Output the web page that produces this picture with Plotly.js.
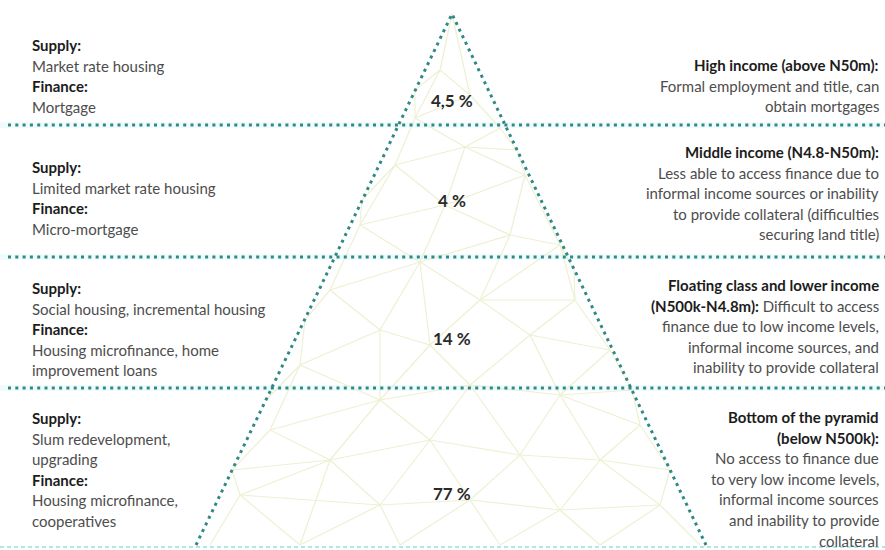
<!DOCTYPE html>
<html>
<head>
<meta charset="utf-8">
<script src="https://cdn.plot.ly/plotly-3.0.1.min.js"></script>
<style>html,body{margin:0;padding:0;background:#fff;}#chart{width:885px;height:550px;}</style>
</head>
<body>
<div id="chart"></div>
<script>
// ---------- DATA ----------
const tierShares = ["4,5 %", "4 %", "14 %", "77 %"];

const supplyFinance = [
  ["<b>Supply:</b>", "Market rate housing", "<b>Finance:</b>", "Mortgage"],
  ["<b>Supply:</b>", "Limited market rate housing", "<b>Finance:</b>", "Micro-mortgage"],
  ["<b>Supply:</b>", "Social housing, incremental housing", "<b>Finance:</b>", "Housing microfinance, home", "improvement loans"],
  ["<b>Supply:</b>", "Slum redevelopment,", "upgrading", "<b>Finance:</b>", "Housing microfinance,", "cooperatives"]
];

const incomeGroups = [
  ["<b>High income (above N50m):</b>", "Formal employment and title, can", "obtain mortgages"],
  ["<b>Middle income (N4.8-N50m):</b>", "Less able to access finance due to", "informal income sources or inability", "to provide collateral (difficulties", "securing land title)"],
  ["<b>Floating class and lower income</b>", "<b>(N500k-N4.8m):</b> Difficult to access", "finance due to low income levels,", "informal income sources, and", "inability to provide collateral"],
  ["<b>Bottom of the pyramid</b>", "<b>(below N500k):</b>", "No access to finance due", "to very low income levels,", "informal income sources", "and inability to provide", "collateral"]
];

// ---------- LAYOUT GEOMETRY (pixel frame) ----------
const W = 885, H = 550;
const apex = [452, 14];
const baseLeft = [196, 545];
const baseRight = [706, 545];
const tierLinesY = [125, 257, 388];
const bottomLineY = 547;
const shareY = [100, 200, 338, 493];
const leftStartY = [45, 167, 288, 418];
const rightStartY = [65, 152, 285, 417];
const lineGap = 20.6;
const leftX = 30, rightX = 881;

// decorative background mesh
const meshX = [452,440,470,415,500,465,395,525,445,360,510,560,420,330,480,575,380,430,530,610,300,470,380,560,270,640,330,430,520,600,240,380,470,560,660,210,300,400,500,600,700,415,517,362,574,305,632,266,670,232];
const meshY = [14,70,95,118,128,147,165,175,205,225,235,245,262,290,300,300,330,345,335,350,365,385,400,395,430,425,460,440,455,460,495,505,500,510,505,545,545,545,545,545,545,90,150,200,270,320,390,400,470,470];
const meshEdges = [[0,1],[0,2],[1,2],[1,41],[1,3],[2,3],[2,4],[3,41],[3,5],[4,5],[3,6],[5,6],[4,42],[5,42],[42,7],[5,7],[5,8],[6,8],[7,8],[6,43],[6,9],[8,9],[43,9],[7,10],[8,10],[7,11],[10,11],[8,12],[9,12],[10,12],[9,13],[12,13],[11,44],[10,14],[12,14],[11,14],[44,15],[14,15],[11,15],[13,45],[13,16],[12,16],[16,17],[12,17],[14,17],[14,18],[15,18],[15,19],[18,19],[45,20],[16,20],[17,21],[16,22],[17,22],[18,21],[18,23],[19,23],[19,46],[20,22],[20,47],[20,24],[22,24],[21,22],[21,23],[23,46],[23,25],[46,25],[22,27],[21,27],[21,28],[23,28],[23,29],[25,29],[24,26],[22,26],[26,27],[27,28],[28,29],[29,48],[25,48],[24,49],[26,49],[26,30],[49,30],[26,31],[27,31],[27,32],[28,32],[28,33],[29,33],[29,34],[48,34],[30,35],[30,36],[26,36],[31,36],[31,37],[32,37],[32,38],[33,38],[33,39],[34,39],[34,40],[31,32],[32,33],[33,34],[30,31]];

// ---------- TRACES ----------
const traces = [];
const mx = [], my = [];
meshEdges.forEach(e => { mx.push(meshX[e[0]], meshX[e[1]], null); my.push(meshY[e[0]], meshY[e[1]], null); });
traces.push({type:'scatter', mode:'lines', x:mx, y:my, line:{color:'#eef0d3', width:1.2}, hoverinfo:'skip', showlegend:false});

// horizontal tier separators: glow + dots
tierLinesY.forEach(y => {
  traces.push({type:'scatter', mode:'lines', x:[0,W], y:[y,y], line:{color:'rgba(185,238,238,0.22)', width:6}, hoverinfo:'skip', showlegend:false});
});
traces.push({type:'scatter', mode:'lines', x:[0,W], y:[bottomLineY,bottomLineY], line:{color:'#b2e5e5', width:2, dash:'4px,3px'}, hoverinfo:'skip', showlegend:false});
tierLinesY.forEach(y => {
  traces.push({type:'scatter', mode:'lines', x:[8,W], y:[y,y], line:{color:'#2f8986', width:3, dash:'3px,4.3px'}, hoverinfo:'skip', showlegend:false});
});
// pyramid sides
traces.push({type:'scatter', mode:'lines', x:[baseLeft[0], apex[0], baseRight[0]], y:[baseLeft[1], apex[1], baseRight[1]], line:{color:'#2f8986', width:3, dash:'3px,4.3px'}, hoverinfo:'skip', showlegend:false});

// ---------- ANNOTATIONS ----------
const annotations = [];
tierShares.forEach((s, i) => {
  annotations.push({x:apex[0], y:shareY[i], xref:'x', yref:'y', text:'<b>'+s+'</b>', showarrow:false, xanchor:'center', yanchor:'middle', font:{family:'Lato', size:17, color:'#2a2a2a'}});
});
supplyFinance.forEach((lines, i) => {
  lines.forEach((t, j) => {
    const bold = t.startsWith('<b>');
    annotations.push({x:leftX, y:leftStartY[i] + j*lineGap, xref:'x', yref:'y', text:t, showarrow:false, xanchor:'left', yanchor:'middle', font:{family:'Lato', size:15, color: bold ? '#1c1c1c' : '#4d4d4d'}});
  });
});
incomeGroups.forEach((lines, i) => {
  lines.forEach((t, j) => {
    const txt = t.replace(/<b>(.*?)<\/b>/g, '<span style="color:#1c1c1c"><b>$1</b></span>');
    annotations.push({x:rightX, y:rightStartY[i] + j*lineGap, xref:'x', yref:'y', text:txt, showarrow:false, xanchor:'right', yanchor:'middle', align:'right', font:{family:'Lato', size:15, color:'#4d4d4d'}});
  });
});

const layout = {
  width: W, height: H,
  margin:{l:0, r:0, t:0, b:0},
  paper_bgcolor:'#ffffff', plot_bgcolor:'#ffffff',
  xaxis:{range:[0, W], visible:false, fixedrange:true},
  yaxis:{range:[H, 0], visible:false, fixedrange:true},
  showlegend:false,
  annotations: annotations
};

Plotly.newPlot('chart', traces, layout, {staticPlot:true, displayModeBar:false});
</script>
</body>
</html>
